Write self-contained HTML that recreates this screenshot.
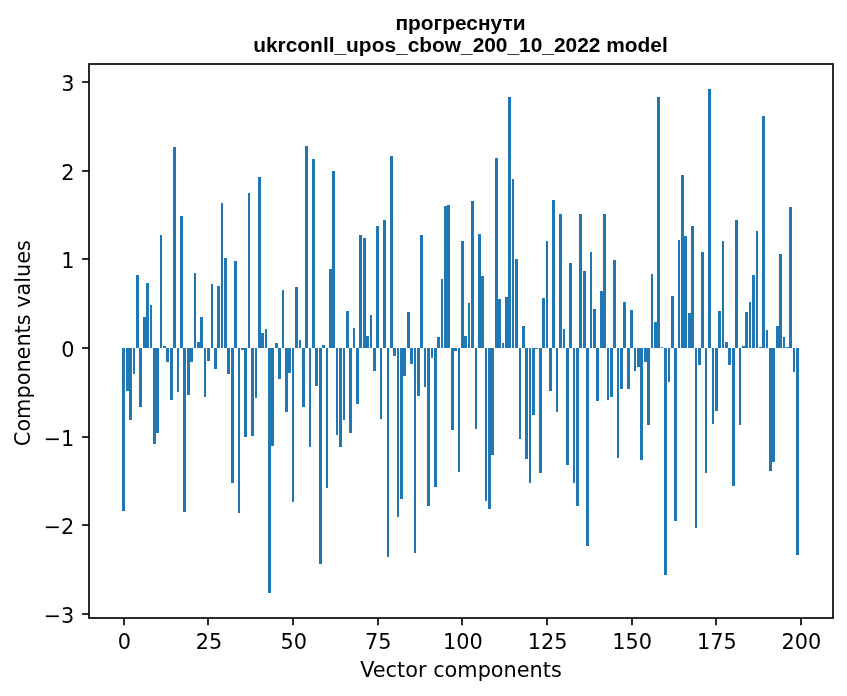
<!DOCTYPE html>
<html lang="uk">
<head>
<meta charset="utf-8">
<title>прогреснути — ukrconll_upos_cbow_200_10_2022 model</title>
<style>
html,body{margin:0;padding:0;background:#fff;}
body{width:847px;height:696px;overflow:hidden;}
svg{display:block;will-change:transform;}
.lbl{font-family:"DejaVu Sans","Liberation Sans",sans-serif;font-size:20.83px;fill:#000;}
.ttl{font-family:"Liberation Sans","DejaVu Sans",sans-serif;font-weight:bold;font-size:20.9px;fill:#000;}
</style>
</head>
<body>
<svg width="847" height="696" viewBox="0 0 847 696">
<rect x="0" y="0" width="847" height="696" fill="#ffffff"/>
<g fill="#1f77b4" shape-rendering="crispEdges">
<rect x="122" y="348" width="3" height="163"/>
<rect x="126" y="348" width="3" height="43"/>
<rect x="129" y="348" width="3" height="72"/>
<rect x="133" y="348" width="2" height="26"/>
<rect x="136" y="275" width="3" height="73"/>
<rect x="139" y="348" width="3" height="59"/>
<rect x="143" y="317" width="3" height="31"/>
<rect x="146" y="283" width="3" height="65"/>
<rect x="150" y="305" width="2" height="43"/>
<rect x="153" y="348" width="3" height="96"/>
<rect x="156" y="348" width="3" height="85"/>
<rect x="160" y="235" width="2" height="113"/>
<rect x="163" y="346" width="3" height="2"/>
<rect x="166" y="348" width="3" height="14"/>
<rect x="170" y="348" width="3" height="52"/>
<rect x="173" y="147" width="3" height="201"/>
<rect x="177" y="348" width="2" height="44"/>
<rect x="180" y="216" width="3" height="132"/>
<rect x="183" y="348" width="3" height="164"/>
<rect x="187" y="348" width="3" height="47"/>
<rect x="190" y="348" width="3" height="14"/>
<rect x="194" y="273" width="2" height="75"/>
<rect x="197" y="342" width="3" height="6"/>
<rect x="200" y="317" width="3" height="31"/>
<rect x="204" y="348" width="2" height="49"/>
<rect x="207" y="348" width="3" height="13"/>
<rect x="211" y="284" width="2" height="64"/>
<rect x="214" y="348" width="3" height="21"/>
<rect x="217" y="286" width="3" height="62"/>
<rect x="221" y="203" width="2" height="145"/>
<rect x="224" y="258" width="3" height="90"/>
<rect x="227" y="348" width="3" height="26"/>
<rect x="231" y="348" width="3" height="135"/>
<rect x="234" y="261" width="3" height="87"/>
<rect x="238" y="348" width="2" height="165"/>
<rect x="241" y="348" width="3" height="2"/>
<rect x="244" y="348" width="3" height="89"/>
<rect x="248" y="193" width="2" height="155"/>
<rect x="251" y="348" width="3" height="88"/>
<rect x="255" y="348" width="2" height="50"/>
<rect x="258" y="177" width="3" height="171"/>
<rect x="261" y="333" width="3" height="15"/>
<rect x="265" y="329" width="2" height="19"/>
<rect x="268" y="348" width="3" height="245"/>
<rect x="271" y="348" width="3" height="98"/>
<rect x="275" y="343" width="3" height="5"/>
<rect x="278" y="348" width="3" height="31"/>
<rect x="282" y="290" width="2" height="58"/>
<rect x="285" y="348" width="3" height="64"/>
<rect x="288" y="348" width="3" height="25"/>
<rect x="292" y="348" width="2" height="154"/>
<rect x="295" y="287" width="3" height="61"/>
<rect x="299" y="340" width="2" height="8"/>
<rect x="302" y="348" width="3" height="59"/>
<rect x="305" y="146" width="3" height="202"/>
<rect x="309" y="348" width="2" height="99"/>
<rect x="312" y="159" width="3" height="189"/>
<rect x="315" y="348" width="3" height="38"/>
<rect x="319" y="348" width="3" height="216"/>
<rect x="322" y="345" width="3" height="3"/>
<rect x="326" y="348" width="2" height="140"/>
<rect x="329" y="269" width="3" height="79"/>
<rect x="332" y="171" width="3" height="177"/>
<rect x="336" y="348" width="2" height="87"/>
<rect x="339" y="348" width="3" height="99"/>
<rect x="343" y="348" width="2" height="72"/>
<rect x="346" y="311" width="3" height="37"/>
<rect x="349" y="348" width="3" height="85"/>
<rect x="353" y="328" width="2" height="20"/>
<rect x="356" y="348" width="3" height="56"/>
<rect x="359" y="235" width="3" height="113"/>
<rect x="363" y="238" width="3" height="110"/>
<rect x="366" y="336" width="3" height="12"/>
<rect x="370" y="315" width="2" height="33"/>
<rect x="373" y="348" width="3" height="23"/>
<rect x="376" y="226" width="3" height="122"/>
<rect x="380" y="348" width="2" height="71"/>
<rect x="383" y="220" width="3" height="128"/>
<rect x="387" y="348" width="2" height="209"/>
<rect x="390" y="156" width="3" height="192"/>
<rect x="393" y="348" width="3" height="8"/>
<rect x="397" y="348" width="2" height="169"/>
<rect x="400" y="348" width="3" height="151"/>
<rect x="403" y="348" width="3" height="28"/>
<rect x="407" y="312" width="3" height="36"/>
<rect x="410" y="348" width="3" height="16"/>
<rect x="414" y="348" width="2" height="205"/>
<rect x="417" y="348" width="3" height="48"/>
<rect x="420" y="235" width="3" height="113"/>
<rect x="424" y="348" width="2" height="39"/>
<rect x="427" y="348" width="3" height="158"/>
<rect x="431" y="348" width="2" height="10"/>
<rect x="434" y="348" width="3" height="139"/>
<rect x="437" y="337" width="3" height="11"/>
<rect x="441" y="279" width="2" height="69"/>
<rect x="444" y="206" width="3" height="142"/>
<rect x="447" y="205" width="3" height="143"/>
<rect x="451" y="348" width="3" height="82"/>
<rect x="454" y="348" width="3" height="3"/>
<rect x="458" y="348" width="2" height="124"/>
<rect x="461" y="241" width="3" height="107"/>
<rect x="464" y="336" width="3" height="12"/>
<rect x="468" y="303" width="2" height="45"/>
<rect x="471" y="201" width="3" height="147"/>
<rect x="475" y="348" width="2" height="81"/>
<rect x="478" y="234" width="3" height="114"/>
<rect x="481" y="276" width="3" height="72"/>
<rect x="485" y="348" width="2" height="153"/>
<rect x="488" y="348" width="3" height="161"/>
<rect x="491" y="348" width="3" height="107"/>
<rect x="495" y="158" width="3" height="190"/>
<rect x="498" y="299" width="3" height="49"/>
<rect x="502" y="343" width="2" height="5"/>
<rect x="505" y="297" width="3" height="51"/>
<rect x="508" y="97" width="3" height="251"/>
<rect x="512" y="179" width="2" height="169"/>
<rect x="515" y="259" width="3" height="89"/>
<rect x="519" y="348" width="2" height="91"/>
<rect x="522" y="326" width="3" height="22"/>
<rect x="525" y="348" width="3" height="111"/>
<rect x="529" y="348" width="2" height="135"/>
<rect x="532" y="348" width="3" height="67"/>
<rect x="535" y="348" width="3" height="1"/>
<rect x="539" y="348" width="3" height="125"/>
<rect x="542" y="298" width="3" height="50"/>
<rect x="546" y="241" width="2" height="107"/>
<rect x="549" y="348" width="3" height="43"/>
<rect x="552" y="200" width="3" height="148"/>
<rect x="556" y="348" width="2" height="64"/>
<rect x="559" y="214" width="3" height="134"/>
<rect x="563" y="329" width="2" height="19"/>
<rect x="566" y="348" width="3" height="117"/>
<rect x="569" y="263" width="3" height="85"/>
<rect x="573" y="348" width="2" height="135"/>
<rect x="576" y="348" width="3" height="158"/>
<rect x="579" y="214" width="3" height="134"/>
<rect x="583" y="271" width="3" height="77"/>
<rect x="586" y="348" width="3" height="198"/>
<rect x="590" y="252" width="2" height="96"/>
<rect x="593" y="309" width="3" height="39"/>
<rect x="596" y="348" width="3" height="53"/>
<rect x="600" y="291" width="3" height="57"/>
<rect x="603" y="214" width="3" height="134"/>
<rect x="607" y="348" width="2" height="52"/>
<rect x="610" y="348" width="3" height="49"/>
<rect x="613" y="260" width="3" height="88"/>
<rect x="617" y="348" width="2" height="110"/>
<rect x="620" y="348" width="3" height="41"/>
<rect x="623" y="302" width="3" height="46"/>
<rect x="627" y="348" width="3" height="41"/>
<rect x="630" y="310" width="3" height="38"/>
<rect x="634" y="348" width="2" height="23"/>
<rect x="637" y="348" width="3" height="19"/>
<rect x="640" y="348" width="3" height="112"/>
<rect x="644" y="348" width="3" height="14"/>
<rect x="647" y="348" width="3" height="77"/>
<rect x="651" y="274" width="2" height="74"/>
<rect x="654" y="322" width="3" height="26"/>
<rect x="657" y="97" width="3" height="251"/>
<rect x="661" y="347" width="2" height="1"/>
<rect x="664" y="348" width="3" height="227"/>
<rect x="668" y="348" width="2" height="34"/>
<rect x="671" y="296" width="3" height="52"/>
<rect x="674" y="348" width="3" height="173"/>
<rect x="678" y="240" width="2" height="108"/>
<rect x="681" y="175" width="3" height="173"/>
<rect x="684" y="236" width="3" height="112"/>
<rect x="688" y="313" width="3" height="35"/>
<rect x="691" y="226" width="3" height="122"/>
<rect x="695" y="348" width="2" height="180"/>
<rect x="698" y="348" width="3" height="17"/>
<rect x="701" y="252" width="3" height="96"/>
<rect x="705" y="348" width="2" height="125"/>
<rect x="708" y="89" width="3" height="259"/>
<rect x="712" y="348" width="2" height="76"/>
<rect x="715" y="348" width="3" height="63"/>
<rect x="718" y="311" width="3" height="37"/>
<rect x="722" y="241" width="2" height="107"/>
<rect x="725" y="342" width="3" height="6"/>
<rect x="728" y="348" width="3" height="17"/>
<rect x="732" y="348" width="3" height="138"/>
<rect x="735" y="220" width="3" height="128"/>
<rect x="739" y="348" width="2" height="77"/>
<rect x="742" y="346" width="3" height="2"/>
<rect x="745" y="312" width="3" height="36"/>
<rect x="749" y="302" width="2" height="46"/>
<rect x="752" y="275" width="3" height="73"/>
<rect x="756" y="231" width="2" height="117"/>
<rect x="759" y="347" width="3" height="1"/>
<rect x="762" y="116" width="3" height="232"/>
<rect x="766" y="330" width="2" height="18"/>
<rect x="769" y="348" width="3" height="123"/>
<rect x="772" y="348" width="3" height="114"/>
<rect x="776" y="326" width="3" height="22"/>
<rect x="779" y="254" width="3" height="94"/>
<rect x="783" y="337" width="2" height="11"/>
<rect x="786" y="347" width="3" height="1"/>
<rect x="789" y="207" width="3" height="141"/>
<rect x="793" y="348" width="2" height="24"/>
<rect x="796" y="348" width="3" height="207"/>
</g>
<g stroke="#000" stroke-width="1.67" fill="none">
<line x1="124" y1="618" x2="124" y2="625.3"/>
<line x1="208" y1="618" x2="208" y2="625.3"/>
<line x1="293" y1="618" x2="293" y2="625.3"/>
<line x1="378" y1="618" x2="378" y2="625.3"/>
<line x1="462" y1="618" x2="462" y2="625.3"/>
<line x1="547" y1="618" x2="547" y2="625.3"/>
<line x1="632" y1="618" x2="632" y2="625.3"/>
<line x1="716" y1="618" x2="716" y2="625.3"/>
<line x1="801" y1="618" x2="801" y2="625.3"/>
<line x1="82.1" y1="614" x2="89" y2="614"/>
<line x1="82.1" y1="525" x2="89" y2="525"/>
<line x1="82.1" y1="437" x2="89" y2="437"/>
<line x1="82.1" y1="348" x2="89" y2="348"/>
<line x1="82.1" y1="259" x2="89" y2="259"/>
<line x1="82.1" y1="171" x2="89" y2="171"/>
<line x1="82.1" y1="82" x2="89" y2="82"/>
</g>
<rect x="89" y="64" width="744" height="554" fill="none" stroke="#000" stroke-width="1.67" stroke-linejoin="miter"/>
<g class="lbl">
<text x="124.4" y="648.6" text-anchor="middle">0</text>
<text x="209.1" y="648.6" text-anchor="middle">25</text>
<text x="293.7" y="648.6" text-anchor="middle">50</text>
<text x="378.3" y="648.6" text-anchor="middle">75</text>
<text x="463.0" y="648.6" text-anchor="middle">100</text>
<text x="547.6" y="648.6" text-anchor="middle">125</text>
<text x="632.2" y="648.6" text-anchor="middle">150</text>
<text x="716.8" y="648.6" text-anchor="middle">175</text>
<text x="801.5" y="648.6" text-anchor="middle">200</text>
<text x="74.4" y="623.0" text-anchor="end">−3</text>
<text x="74.4" y="534.0" text-anchor="end">−2</text>
<text x="74.4" y="446.0" text-anchor="end">−1</text>
<text x="74.4" y="357.0" text-anchor="end">0</text>
<text x="74.4" y="268.0" text-anchor="end">1</text>
<text x="74.4" y="180.0" text-anchor="end">2</text>
<text x="74.4" y="91.0" text-anchor="end">3</text>
<text x="461" y="676.5" text-anchor="middle">Vector components</text>
<text transform="translate(29.7,343.1) rotate(-90)" text-anchor="middle">Components values</text>
</g>
<g class="ttl" text-anchor="middle">
<text x="460.5" y="30">прогреснути</text>
<text x="460.5" y="51.6">ukrconll_upos_cbow_200_10_2022 model</text>
</g>
</svg>
</body>
</html>
